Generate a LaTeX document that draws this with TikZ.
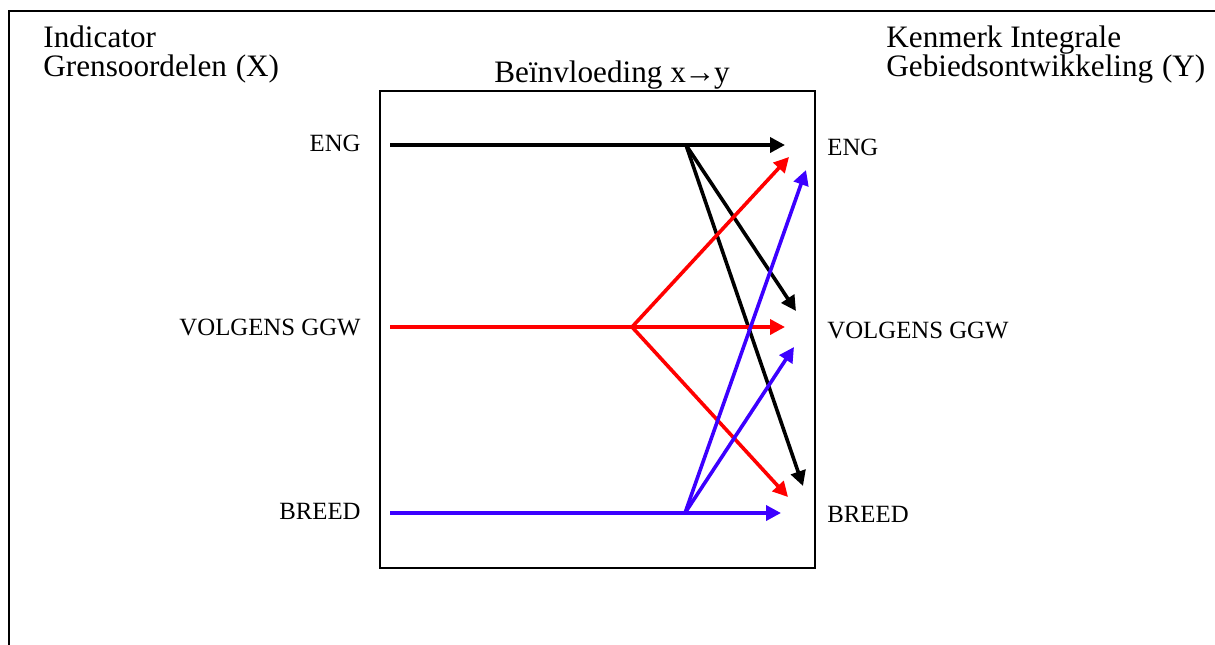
\documentclass[tikz,border=0pt]{standalone}
\usepackage{fontspec}
\setmainfont{Liberation Serif}
\usetikzlibrary{arrows.meta}
\definecolor{arrred}{RGB}{255,0,0}
\definecolor{arrblue}{RGB}{60,0,255}
\tikzset{
  title/.style={anchor=base west, inner sep=0pt, font=\fontsize{15.6}{18}\selectfont},
  lbl/.style={inner sep=0pt, font=\fontsize{12.4}{14}\selectfont},
  link/.style={line width=1.8pt, -{Triangle[length=7.5pt,width=7.5pt]}},
  seg/.style={line width=1.8pt},
}
\begin{document}
\begin{tikzpicture}[x=0.5pt,y=-0.5pt]
\useasboundingbox (0,0) rectangle (1215,644);
% outer frame (only top and left visible)
\draw[line width=1pt] (9,700) -- (9,11) -- (1300,11);
% inner box
\node[draw, line width=0.8pt, minimum width=217.5pt, minimum height=238.5pt, inner sep=0pt] (box) at (597.5,329.5) {};
% titles
\node[title] (t1a) at (43,47) {Indicator};
\node[title] (t1b) at (43,76) {Grensoordelen\hspace{0.03em} (X)};
\node[title] (t2a) at (886,47) {Kenmerk Integrale};
\node[title] (t2b) at (886,76) {Gebiedsontwikkeling\hspace{0.03em} (Y)};
\node[title, anchor=base] (t3) at (612,82) {Beïnvloeding x\hspace{-0.05em}→\hspace{-0.05em}y};
% left labels
\node[lbl, anchor=base east] (xe) at (361,151) {ENG};
\node[lbl, anchor=base east] (xv) at (361,335) {VOLGENS GGW};
\node[lbl, anchor=base east] (xb) at (361,519) {BREED};
% right labels
\node[lbl, anchor=base west] (ye) at (827,155) {ENG};
\node[lbl, anchor=base west] (yv) at (827,338) {VOLGENS GGW};
\node[lbl, anchor=base west] (yb) at (827,522) {BREED};
% start and branch points
\coordinate (se) at (390,145);
\coordinate (sv) at (390,327);
\coordinate (sb) at (390,513);
\coordinate (be) at (686,145);
\coordinate (bv) at (632,327);
\coordinate (bb) at (685,513);
% end points
\coordinate (e1) at (785,145);
\coordinate (e2) at (796,311);
\coordinate (e3) at (803,486);
\coordinate (v1) at (789,157);
\coordinate (v2) at (785,327);
\coordinate (v3) at (788,497);
\coordinate (b1) at (806,170);
\coordinate (b2) at (794,347);
\coordinate (b3) at (781,513);
% black
\draw[seg] (se) -- (be);
\draw[link] (be) -- (e1);
\draw[link] (be) -- (e2);
\draw[link] (be) -- (e3);
% red
\draw[seg, arrred] (sv) -- (bv);
\draw[link, arrred] (bv) -- (v1);
\draw[link, arrred] (bv) -- (v2);
\draw[link, arrred] (bv) -- (v3);
% blue
\draw[seg, arrblue] (sb) -- (bb);
\draw[link, arrblue] (bb) -- (b1);
\draw[link, arrblue] (bb) -- (b2);
\draw[link, arrblue] (bb) -- (b3);
\end{tikzpicture}
\end{document}
